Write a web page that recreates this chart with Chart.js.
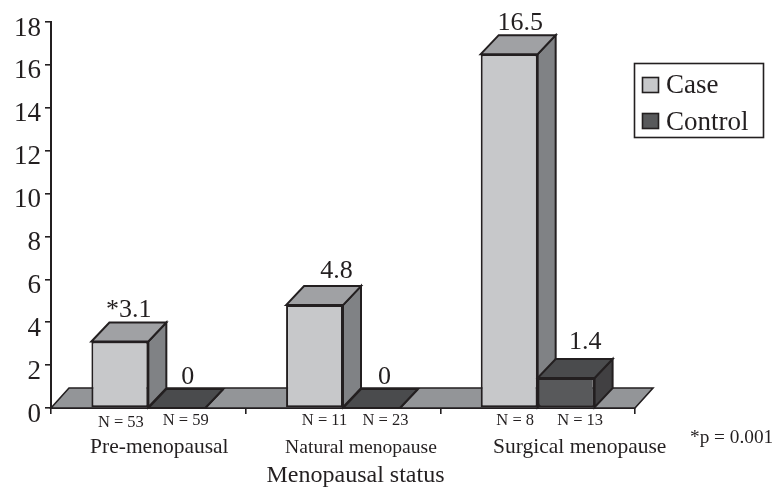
<!DOCTYPE html>
<html>
<head>
<meta charset="utf-8">
<script src="https://cdn.jsdelivr.net/npm/chart.js@4"></script>
<style>
html,body{margin:0;padding:0;background:#fff}
#wrap{position:relative;width:774px;height:487px}
</style>
</head>
<body>
<div id="wrap"><canvas id="c" width="774" height="487"></canvas></div>
<script>
const categories = ["Pre-menopausal", "Natural menopause", "Surgical menopause"];
const caseValues = [3.1, 4.8, 16.5];
const controlValues = [0, 0, 1.4];
const caseValueLabels = ["*3.1", "4.8", "16.5"];
const controlValueLabels = ["0", "0", "1.4"];
const caseCounts = ["N = 53", "N = 11", "N = 8"];
const controlCounts = ["N = 59", "N = 23", "N = 13"];
const axisTitle = "Menopausal status";
const footnote = "*p = 0.001";

const FONT = '"Liberation Serif","Times New Roman",serif';
const INK = "#231f20";
const DEPTH_X = 18, DEPTH_Y = 19;
const LAYOUT = {left:51, right:635, top:22, bottom:408};

const caseStyle = {front:"#c7c8ca", top:"#a0a1a4", side:"#808285"};
const controlStyle = {front:"#58595b", top:"#4a4b4d", side:"#414042"};

// Label nudges relative to the bars, in pixels
const caseValueNudge = [[9,-6],[22,-8],[11,-5]];
const controlValueNudge = [[11,-5],[13,-5],[19,-10]];
const caseCountNudge = [[1,427],[10,425],[6,425]];
const controlCountNudge = [[9,425],[14,425],[14,425]];
const categoryNudge = [11, 18, 42];
const categoryFontSize = [21.5, 19.6, 21.5];

function poly(ctx, pts, fill) {
  ctx.beginPath();
  pts.forEach((p,i)=> i ? ctx.lineTo(p[0],p[1]) : ctx.moveTo(p[0],p[1]));
  ctx.closePath();
  ctx.fillStyle = fill;
  ctx.fill();
  ctx.lineWidth = 2;
  ctx.lineJoin = "miter";
  ctx.strokeStyle = INK;
  ctx.stroke();
}

function barExtents(el) {
  const half = el.width / 2;
  return {l: el.x - half, r: el.x + half, t: el.y, b: el.base};
}

const depthPlugin = {
  id: "depth",
  beforeDatasetsDraw(chart) {
    const ctx = chart.ctx, a = chart.chartArea;
    ctx.save();
    // floor
    ctx.beginPath();
    ctx.moveTo(a.left, a.bottom);
    ctx.lineTo(a.left + DEPTH_X, a.bottom - DEPTH_Y - 1);
    ctx.lineTo(a.right + DEPTH_X, a.bottom - DEPTH_Y - 1);
    ctx.lineTo(a.right, a.bottom);
    ctx.closePath();
    ctx.fillStyle = "#939598";
    ctx.fill();
    ctx.lineWidth = 1.6;
    ctx.strokeStyle = INK;
    ctx.stroke();
    [caseStyle, controlStyle].forEach((st, d) => {
      chart.getDatasetMeta(d).data.forEach(el => {
        const e = barExtents(el);
        poly(ctx, [[e.r,e.t],[e.r+DEPTH_X,e.t-DEPTH_Y],[e.r+DEPTH_X,e.b-DEPTH_Y],[e.r,e.b]], st.side);
        poly(ctx, [[e.l,e.t],[e.l+DEPTH_X,e.t-DEPTH_Y],[e.r+DEPTH_X,e.t-DEPTH_Y],[e.r,e.t]], st.top);
      });
    });
    ctx.restore();
  },
  afterDatasetsDraw(chart) {
    const ctx = chart.ctx;
    ctx.save();
    ctx.fillStyle = INK;
    ctx.textBaseline = "alphabetic";
    ctx.textAlign = "center";

    const caseBars = chart.getDatasetMeta(0).data;
    const controlBars = chart.getDatasetMeta(1).data;

    ctx.font = "26px " + FONT;
    caseBars.forEach((el,i) => {
      ctx.fillText(caseValueLabels[i], el.x + caseValueNudge[i][0], el.y - DEPTH_Y + caseValueNudge[i][1]);
    });
    controlBars.forEach((el,i) => {
      ctx.fillText(controlValueLabels[i], el.x + controlValueNudge[i][0], el.y - DEPTH_Y + controlValueNudge[i][1]);
    });

    ctx.font = "16.5px " + FONT;
    caseBars.forEach((el,i) => ctx.fillText(caseCounts[i], el.x + caseCountNudge[i][0], caseCountNudge[i][1]));
    controlBars.forEach((el,i) => ctx.fillText(controlCounts[i], el.x + controlCountNudge[i][0], controlCountNudge[i][1]));

    const xs = chart.scales.x;
    categories.forEach((c,i) => {
      ctx.font = categoryFontSize[i] + "px " + FONT;
      ctx.fillText(c, xs.getPixelForValue(i) + categoryNudge[i], 453);
    });

    ctx.font = "24px " + FONT;
    ctx.fillText(axisTitle, 355.5, 482);

    ctx.textAlign = "left";
    ctx.font = "19.3px " + FONT;
    ctx.fillText(footnote, 690, 443);

    // legend
    ctx.lineWidth = 1.6;
    ctx.strokeStyle = INK;
    ctx.strokeRect(634.5, 63.5, 129, 74);
    const rows = [[chart.data.datasets[0], 77, 93],[chart.data.datasets[1], 113, 130]];
    ctx.font = "27px " + FONT;
    rows.forEach(([ds, boxY, base]) => {
      ctx.fillStyle = ds.backgroundColor;
      ctx.fillRect(642.5, boxY + 0.5, 16, 15);
      ctx.strokeRect(642.5, boxY + 0.5, 16, 15);
      ctx.fillStyle = INK;
      ctx.fillText(ds.label, 666, base);
    });
    ctx.restore();
  }
};

new Chart(document.getElementById("c"), {
  type: "bar",
  data: {
    labels: categories,
    datasets: [
      {label:"Case", data:caseValues, backgroundColor:caseStyle.front, borderColor:INK, borderWidth:2, borderSkipped:false},
      {label:"Control", data:controlValues, backgroundColor:controlStyle.front, borderColor:INK, borderWidth:2, borderSkipped:false}
    ]
  },
  options: {
    responsive:false,
    animation:false,
    devicePixelRatio:1,
    categoryPercentage:0.585,
    barPercentage:1,
    layout:{padding:{left:0,right:774-LAYOUT.right,top:LAYOUT.top,bottom:0}},
    plugins:{legend:{display:false},tooltip:{enabled:false},title:{display:false}},
    scales:{
      x:{
        afterFit(s){ s.height = 487 - LAYOUT.bottom; },
        grid:{offset:true, drawOnChartArea:false, color:INK, lineWidth:1.6, tickLength:6, drawTicks:true},
        border:{color:INK, width:2},
        ticks:{display:false}
      },
      y:{
        min:0, max:18,
        afterFit(s){ s.width = LAYOUT.left; },
        grid:{drawOnChartArea:false, color:INK, lineWidth:1.6, tickLength:6},
        border:{color:INK, width:2},
        ticks:{stepSize:2, color:INK, padding:4, labelOffset:6.5, font:{family:FONT,size:27}}
      }
    }
  },
  plugins:[depthPlugin]
});
</script>
</body>
</html>
